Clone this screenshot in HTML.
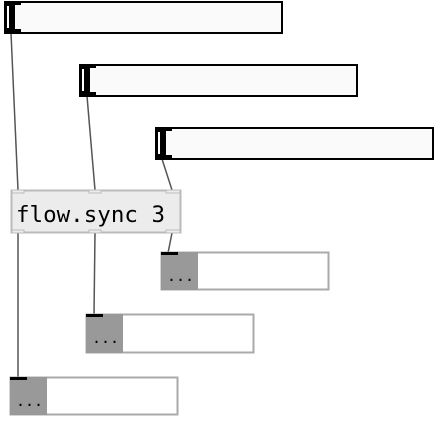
<!DOCTYPE html>
<html><head><style>body{margin:0;background:#fff}</style></head><body>
<svg width="440" height="422" viewBox="0 0 440 422" xmlns="http://www.w3.org/2000/svg">
<g stroke="#555" stroke-width="1.5" fill="none">
<line x1="11" y1="33" x2="18" y2="190"/>
<line x1="87" y1="96" x2="95" y2="190"/>
<line x1="162" y1="159" x2="172" y2="190"/>
<line x1="18" y1="233" x2="18" y2="377"/>
<line x1="95" y1="233" x2="94" y2="315"/>
<line x1="172" y1="233" x2="168" y2="253"/>
</g>
<g>
<rect x="5" y="2" width="277" height="31" fill="#fafafa" stroke="#000" stroke-width="2"/>
<rect x="4" y="1" width="17" height="33" fill="#000"/>
<rect x="15" y="5" width="6" height="24" fill="#fafafa"/>
<rect x="7" y="6" width="2" height="22" fill="#fff"/>

<rect x="80" y="65" width="277" height="31" fill="#fafafa" stroke="#000" stroke-width="2"/>
<rect x="79" y="64" width="17" height="33" fill="#000"/>
<rect x="90" y="68" width="6" height="24" fill="#fafafa"/>
<rect x="82" y="69" width="2" height="22" fill="#fff"/>

<rect x="156" y="128" width="277" height="31" fill="#fafafa" stroke="#000" stroke-width="2"/>
<rect x="155" y="127" width="17" height="33" fill="#000"/>
<rect x="166" y="131" width="6" height="24" fill="#fafafa"/>
<rect x="158" y="132" width="2" height="22" fill="#fff"/>
</g>
<rect x="11.5" y="190.5" width="169" height="42" fill="#ececec" stroke="#bbb" stroke-width="2"/>
<g fill="#ececec" stroke="#bbb" stroke-width="1">
<rect x="12" y="190" width="12" height="3"/><rect x="89" y="190" width="12" height="3"/><rect x="166" y="190" width="14" height="3"/>
<rect x="12" y="230" width="12" height="3"/><rect x="89" y="230" width="12" height="3"/><rect x="166" y="230" width="14" height="3"/>
</g>
<text x="16" y="222" font-family="'DejaVu Sans Mono','Liberation Mono',monospace" font-size="22.5" fill="#000">flow.sync 3</text>
<g>
<rect x="161.5" y="252.5" width="167" height="37" fill="#fff" stroke="#aaa" stroke-width="2"/>
<rect x="161" y="252" width="37" height="38" fill="#999"/>
<rect x="161" y="252" width="17" height="3" fill="#000"/>
<text x="167" y="281" font-family="'DejaVu Sans Mono',monospace" font-size="15" fill="#000">...</text>

<rect x="86.5" y="314.5" width="167" height="38" fill="#fff" stroke="#aaa" stroke-width="2"/>
<rect x="86" y="314" width="37" height="39" fill="#999"/>
<rect x="86" y="314" width="17" height="3" fill="#000"/>
<text x="92" y="343" font-family="'DejaVu Sans Mono',monospace" font-size="15" fill="#000">...</text>

<rect x="10.5" y="377.5" width="167" height="37" fill="#fff" stroke="#aaa" stroke-width="2"/>
<rect x="10" y="377" width="37" height="38" fill="#999"/>
<rect x="10" y="377" width="17" height="3" fill="#000"/>
<text x="16" y="406" font-family="'DejaVu Sans Mono',monospace" font-size="15" fill="#000">...</text>
</g>
</svg>
</body></html>
